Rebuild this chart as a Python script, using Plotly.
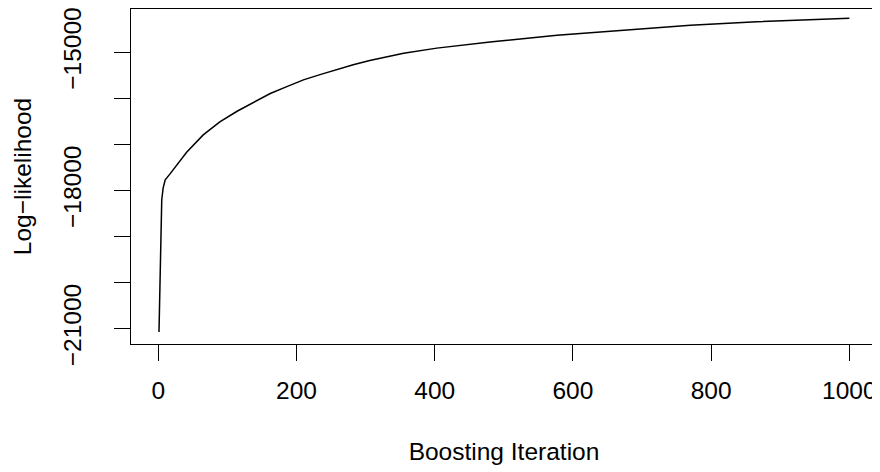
import plotly.graph_objects as go

# Data
iterations = [1, 2, 3, 4, 5, 7, 10, 17, 41, 65, 89, 114, 138, 162, 186,
              210, 234, 258, 282, 306, 330, 355, 403, 480, 577, 673, 770, 866, 1000]
loglik = [-21070, -20300, -19500, -18700, -18200, -17950, -17769, -17640, -17170,
          -16793, -16510, -16280, -16080, -15895, -15746,
          -15600, -15485, -15370, -15270, -15180, -15095, -15020, -14910,
          -14777, -14631, -14516, -14415, -14337, -14263]

x_ticks = [0, 200, 400, 600, 800, 1000]
y_ticks = [-21000, -20000, -19000, -18000, -17000, -16000, -15000]
y_ticktext = ["\u221221000", "", "", "\u221218000", "", "", "\u221215000"]

FONT = "Liberation Sans, Arial, Helvetica, sans-serif"
FS = 24.5

fig = go.Figure()
fig.add_trace(go.Scatter(x=iterations, y=loglik, mode="lines",
                         line=dict(color="black", width=1.5), showlegend=False))

# page body adds an 8px offset, so the figure is slightly smaller
fig.update_layout(
    width=872, height=464,
    margin=dict(l=123, r=3, t=1, b=127.7),
    paper_bgcolor="white", plot_bgcolor="white",
    font=dict(family=FONT, size=FS, color="black"),
    xaxis=dict(
        range=[-39.5, 1040], tickvals=x_ticks, ticktext=[str(v) for v in x_ticks],
        ticks="outside", ticklen=16, tickwidth=1.3, tickcolor="black",
        showline=True, linecolor="black", linewidth=1.3, mirror=True,
        showgrid=False, zeroline=False, ticklabelstandoff=8, automargin=False,
        ticklabeloverflow="allow",
        title=dict(text="Boosting Iteration", standoff=40, font=dict(size=FS)),
    ),
    yaxis=dict(
        range=[-21332, -14061], tickvals=y_ticks, ticktext=y_ticktext,
        ticks="outside", ticklen=16, tickwidth=1.3, tickcolor="black",
        showline=True, linecolor="black", linewidth=1.3, mirror=True,
        showgrid=False, zeroline=False, tickangle=-90, ticklabelstandoff=23,
        automargin=False, ticklabeloverflow="allow",
        title=dict(text="Log\u2212likelihood", standoff=20, font=dict(size=FS)),
    ),
)

fig.write_html("out.html")
